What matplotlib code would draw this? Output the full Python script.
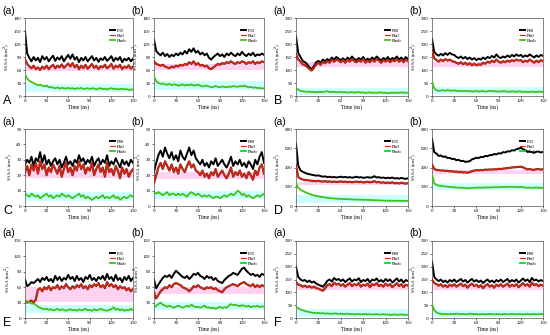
import matplotlib
matplotlib.use('Agg')
import matplotlib.pyplot as plt
import numpy as np

plt.rcParams['font.family'] = ['Liberation Serif', 'DejaVu Serif']

# SASA 曲线数据 (每 3 ns 一个点, 0-150 ns)
a_a_p35 = [150,98,88,80,90,82,88,78,92,84,90,80,87,93,81,89,84,92,80,88,95,86,96,84,90,78,88,82,90,80,86,92,82,88,79,87,83,90,81,86,92,80,88,83,90,78,86,82,88,80,86]
a_a_phil = [85,74,68,64,70,62,66,60,68,63,70,62,68,72,64,70,66,73,65,70,75,68,76,66,72,62,70,64,72,63,68,74,65,70,62,69,66,72,64,68,74,63,70,66,72,62,68,65,71,63,68]
a_a_phob = [50,40,35,32,30,27,25,26,24,22,24,20,21,19,18,20,17,19,18,17,19,17,18,16,18,17,19,16,17,18,16,18,17,15,17,18,16,17,15,17,18,16,17,15,16,17,15,16,14,15,15]

a_b_p35 = [130,104,98,94,100,92,97,90,95,92,98,94,100,96,104,98,108,102,110,100,104,96,100,94,98,88,84,90,94,98,92,96,90,98,94,100,95,92,98,94,102,96,92,98,94,100,92,96,94,98,95]
a_b_phil = [80,74,72,70,72,68,66,64,68,66,70,68,72,70,74,72,78,74,80,72,76,70,72,68,70,64,62,66,70,74,72,76,74,78,76,80,76,74,78,76,80,78,74,78,76,80,74,78,76,80,78]
a_b_phob = [45,34,30,28,29,27,26,28,25,27,26,24,25,27,24,26,25,27,24,25,26,24,22,23,24,22,20,21,23,21,20,22,21,20,22,21,23,22,21,23,22,24,22,20,21,19,20,18,19,17,18]

b_a_p80 = [230,165,150,135,130,122,110,104,115,130,135,128,140,134,142,136,148,140,150,144,138,145,136,148,140,152,142,138,146,140,150,136,144,138,148,140,152,144,136,146,140,150,138,146,142,152,140,148,138,150,142]
b_a_phil = [160,140,132,122,118,112,104,98,108,122,128,120,132,126,134,128,140,132,140,136,130,138,128,140,132,142,134,130,138,132,142,128,136,130,140,132,142,136,128,138,132,140,130,138,134,142,132,140,130,140,134]
b_a_phob = [32,24,20,18,17,16,17,15,16,14,15,16,15,17,18,16,15,16,14,15,16,14,15,13,14,15,13,14,15,13,14,12,13,14,12,13,12,14,13,12,13,11,12,13,12,13,12,14,13,12,13]

b_b_p80 = [220,170,160,155,162,156,165,158,166,160,158,150,146,152,144,150,142,148,140,146,138,144,140,148,142,150,146,154,148,160,150,146,152,148,156,150,158,152,160,154,158,150,156,152,160,154,148,156,150,158,154]
b_b_phil = [175,145,138,132,140,134,142,136,140,134,132,128,124,130,122,128,120,126,118,124,118,122,120,128,124,132,128,136,130,140,132,128,134,130,136,132,138,134,140,136,138,130,136,132,140,134,128,136,130,138,134]
b_b_phob = [55,30,22,20,21,22,20,23,21,20,22,19,20,18,19,20,18,19,17,18,19,17,18,19,17,18,20,18,19,17,18,17,19,18,17,16,18,17,16,18,17,16,17,15,16,17,16,15,17,16,17]

c_a_p80 = [27,30,28,32,26,31,29,35,28,33,27,30,26,29,31,27,30,25,28,32,27,29,26,30,28,33,29,31,27,30,28,32,26,29,31,27,30,28,33,26,29,27,31,28,25,30,27,29,26,30,28]
c_a_phil = [22,26,20,27,23,28,21,29,24,27,20,25,22,27,24,21,26,19,24,28,22,25,20,26,23,29,24,27,21,25,23,28,20,24,27,22,25,19,28,22,24,20,26,23,18,25,21,24,19,22,24]
c_a_phob = [8,7,6,8,7,6,7,5,6,7,8,6,7,5,6,7,6,8,7,6,7,6,5,6,7,8,6,7,5,6,5,4,5,6,5,6,7,5,6,5,6,7,5,6,4,5,6,5,6,7,6]

c_b_p80 = [22,28,33,36,32,38,34,31,35,30,33,29,36,32,30,34,38,33,36,31,29,27,30,26,28,25,29,27,31,26,28,30,27,25,28,32,26,29,27,30,26,28,25,29,27,24,30,27,32,35,28]
c_b_phil = [15,20,25,28,24,29,26,23,27,22,25,21,27,24,22,26,29,25,27,23,22,20,23,19,21,18,22,20,24,19,21,23,20,18,21,25,19,22,20,23,19,21,18,22,20,17,23,20,25,27,21]
c_b_phob = [9,8,9,8,7,8,9,7,8,8,7,8,7,8,7,6,8,9,8,7,8,7,6,7,6,7,6,5,6,6,5,6,7,6,7,8,7,8,10,9,7,8,6,7,6,5,6,7,6,7,8]

d_a_p35 = [650,420,370,355,345,335,330,325,320,315,318,310,305,308,300,304,298,302,296,300,305,298,302,296,300,294,298,304,296,300,292,296,300,294,298,310,296,300,292,296,288,294,290,296,286,290,284,292,286,282,288]
d_a_phil = [420,300,285,275,270,268,265,262,260,258,262,256,254,258,252,256,250,254,250,252,256,250,254,248,252,246,250,254,248,252,244,248,252,246,250,258,246,250,242,246,240,244,240,246,236,240,234,242,236,232,238]
d_a_phob = [230,190,170,155,145,135,125,118,110,105,100,96,92,88,85,82,80,78,76,75,74,72,72,70,70,68,68,66,67,65,65,64,63,62,62,60,60,58,58,56,55,56,54,55,53,54,55,53,54,52,53]

d_b_p35 = [700,560,545,520,525,510,515,498,500,488,490,475,480,466,470,458,462,465,485,492,502,498,510,508,520,518,528,530,540,536,548,545,560,556,568,566,580,576,590,596,604,592,580,562,566,560,552,564,566,556,562]
d_b_phil = [430,385,375,372,368,370,364,366,360,362,356,358,350,354,348,350,346,352,362,368,372,370,374,372,378,376,380,378,382,380,386,384,388,390,394,396,400,402,404,406,408,402,390,380,384,378,376,382,384,378,382]
d_b_phob = [330,235,220,212,210,205,204,200,198,196,194,192,190,192,188,186,185,184,188,190,190,192,190,192,190,194,192,194,195,196,195,196,198,197,198,199,200,198,197,196,198,195,192,190,192,188,190,192,190,188,190]

e_a_p35 = [75,62,65,70,68,72,76,70,78,74,80,72,76,70,82,74,80,72,78,75,84,76,80,72,82,74,78,70,80,76,84,74,78,72,80,76,82,74,86,76,80,72,84,74,78,70,80,74,82,72,78]
e_a_phil = [35,30,32,34,30,36,55,58,52,60,56,62,54,60,58,64,56,62,58,66,60,56,62,58,64,60,66,58,62,56,64,60,66,62,68,60,64,58,70,62,66,60,64,56,62,58,60,54,58,52,56]
e_a_phob = [35,32,30,28,28,26,22,20,18,17,18,16,17,15,16,18,15,17,16,14,16,17,15,16,14,17,15,16,18,15,16,14,17,15,16,18,16,15,14,16,17,21,16,18,15,17,14,16,15,18,15]

e_b_p35 = [75,58,65,72,78,82,80,84,78,86,92,88,84,80,78,82,76,80,86,84,88,82,80,76,82,78,80,74,78,72,70,68,74,78,82,84,88,86,84,90,96,98,92,88,84,86,82,84,80,86,84]
e_b_phil = [50,38,45,52,56,60,58,64,60,66,68,66,64,60,58,56,52,56,62,60,64,60,58,56,60,58,60,56,58,54,52,50,56,60,62,64,66,64,62,66,68,70,66,64,62,66,60,64,60,64,62]
e_b_phob = [20,24,27,30,26,24,22,24,22,20,22,24,22,20,22,24,22,26,23,21,22,20,22,24,20,21,19,20,18,20,22,19,21,20,24,27,25,26,24,23,25,24,22,24,21,23,22,24,21,23,22]

f_a_p80 = [200,160,150,145,148,140,146,138,142,134,130,126,122,132,145,150,142,156,148,152,144,150,140,148,154,142,150,146,155,140,148,144,152,138,150,146,154,142,148,140,152,144,150,138,146,154,142,150,138,148,144]
f_a_phil = [140,130,128,122,126,120,124,118,122,116,114,110,106,116,128,132,124,138,130,134,126,132,122,130,136,124,132,128,136,122,130,126,134,120,132,128,136,124,130,122,134,126,132,120,128,136,124,132,120,130,126]
f_a_phob = [45,38,33,30,27,25,23,21,20,19,20,18,19,17,18,17,16,18,17,16,17,15,16,17,15,16,14,15,16,14,15,16,14,15,13,14,15,13,14,15,13,14,12,13,14,12,13,14,12,13,12]

f_b_p80 = [220,160,150,144,150,140,146,138,148,142,150,140,146,152,142,148,138,146,152,142,148,140,146,136,144,150,140,146,138,148,142,150,140,146,152,140,148,142,150,138,146,154,144,150,140,156,146,150,142,148,144]
f_b_phil = [150,136,132,126,132,122,128,120,130,124,132,122,128,134,124,130,118,128,134,124,130,120,128,116,126,132,122,128,118,130,124,132,122,128,134,122,130,124,132,120,128,136,126,132,122,138,128,132,124,130,126]
f_b_phob = [55,30,22,18,16,15,16,14,15,16,15,17,16,15,16,14,15,17,16,15,16,14,15,16,14,15,16,15,14,16,15,14,15,16,14,15,16,15,14,16,15,14,15,16,14,15,16,14,15,16,15]

x_ticks = [0, 30, 60, 90, 120, 150]

# (数据, 第一条线标签, y上限, y步长, 行, 列, 子图标记)
panels = [
    (a_a_p35, a_a_phil, a_a_phob, 'P35', 180, 30, 0, 0, '(a)'),
    (a_b_p35, a_b_phil, a_b_phob, 'P35', 180, 30, 0, 1, '(b)'),
    (b_a_p80, b_a_phil, b_a_phob, 'P80', 300, 50, 0, 2, '(a)'),
    (b_b_p80, b_b_phil, b_b_phob, 'P80', 300, 50, 0, 3, '(b)'),
    (c_a_p80, c_a_phil, c_a_phob, 'P80', 50, 10, 1, 0, '(a)'),
    (c_b_p80, c_b_phil, c_b_phob, 'P80', 50, 10, 1, 1, '(b)'),
    (d_a_p35, d_a_phil, d_a_phob, 'P35', 800, 200, 1, 2, '(a)'),
    (d_b_p35, d_b_phil, d_b_phob, 'P35', 800, 200, 1, 3, '(b)'),
    (e_a_p35, e_a_phil, e_a_phob, 'P35', 150, 30, 2, 0, '(a)'),
    (e_b_p35, e_b_phil, e_b_phob, 'P35', 150, 30, 2, 1, '(b)'),
    (f_a_p80, f_a_phil, f_a_phob, 'P80', 300, 50, 2, 2, '(a)'),
    (f_b_p80, f_b_phil, f_b_phob, 'P80', 300, 50, 2, 3, '(b)'),
]
big_labels = ['A', 'B', 'C', 'D', 'E', 'F']

W, H = 550, 335
col_px = [(25, 133), (154, 264), (296, 408), (432, 543)]
row_px = [(18, 96), (129, 206), (241, 318)]

fig = plt.figure(figsize=(5.5, 3.35), dpi=100)

for k, (p, phil, phob, name, ymax, ystep, r, c, tag) in enumerate(panels):
    x0, x1 = col_px[c]
    y0, y1 = row_px[r]
    ax = fig.add_axes([x0 / W, 1 - y1 / H, (x1 - x0) / W, (y1 - y0) / H])

    # 背景伪影色带
    ph = np.array(phil)
    pb = np.array(phob)
    ax.axhspan(np.percentile(ph, 10) - ymax * 0.03, np.median(ph), color='#ffc0ec', alpha=0.7, lw=0, zorder=0)
    ax.axhspan(np.percentile(pb, 10) - ymax * 0.03, np.median(pb) + ymax * 0.06, color='#c0ffff', alpha=0.8, lw=0, zorder=0)

    t = np.linspace(0, 150, len(p))
    ax.plot(t, p, color='black', lw=1.4, label=name, zorder=2)
    ax.plot(t, phil, color='#7a2a10', lw=1.6, zorder=3)
    ax.plot(t, phil, color='#e8201a', lw=0.8, label='Phil', zorder=3)
    ax.plot(t, phob, color='#3fc21a', lw=1.3, label='Phob', zorder=4)

    ax.set_xlim(0, 150)
    ax.set_ylim(0, ymax)
    ax.set_xticks(x_ticks)
    ax.set_yticks(np.arange(0, ymax + 1, ystep))
    ax.tick_params(labelsize=3.6, length=1.5, width=0.4, pad=1)
    for s in ax.spines.values():
        s.set_linewidth(0.5)
        s.set_color('#555555')
    ax.set_xlabel('Time (ns)', fontsize=4, labelpad=0.5)
    ax.set_ylabel('SASA (nm$^2$)', fontsize=3.6, labelpad=1)

    handles, labels = ax.get_legend_handles_labels()
    ax.legend(handles, labels, loc='upper right', bbox_to_anchor=(0.97, 0.9),
              fontsize=3.4, frameon=False, handlelength=1.2, handletextpad=0.4,
              labelspacing=0.15, borderpad=0.1)

    fig.text((x0 - 23) / W, 1 - 11 / H - r * 111 / H, tag, fontsize=7.5,
             family='Liberation Sans', ha='left', va='center')

for i, lab in enumerate(big_labels):
    r = i // 2
    c = 0 if i % 2 == 0 else 2
    fig.text((col_px[c][0] - 22) / W, 1 - (row_px[r][1] + 5) / H, lab,
             fontsize=9, family='Liberation Sans', ha='left', va='center')

fig.savefig('out.png', dpi=100)
